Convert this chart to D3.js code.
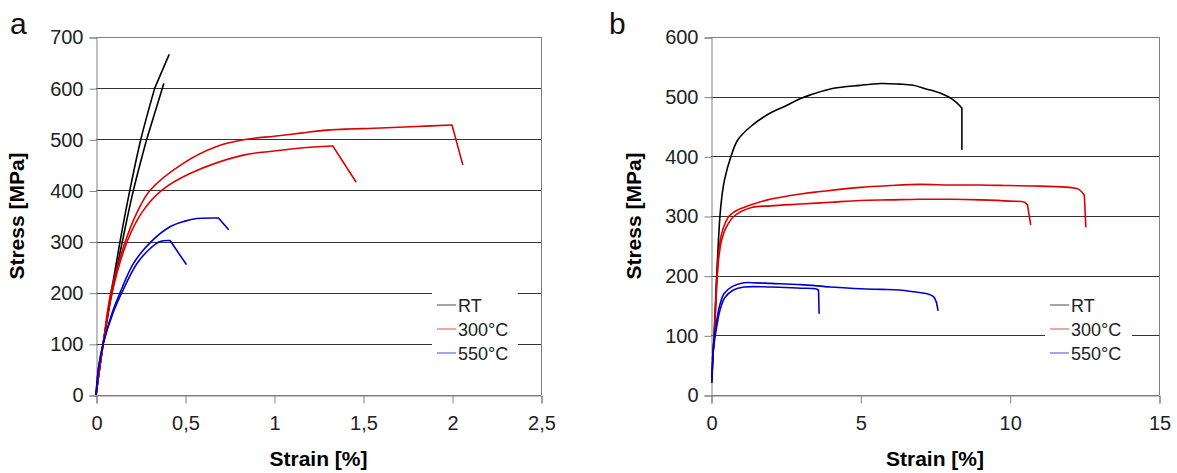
<!DOCTYPE html>
<html><head><meta charset="utf-8">
<script src="https://cdn.jsdelivr.net/npm/d3@7"></script>
<style>body{margin:0;background:#fff}svg{display:block}</style>
</head><body><svg id="c" width="1177" height="473"></svg>
<script>
// ---- Data (strain [%], stress [MPa]) ----
const seriesNames = ["RT", "300°C", "550°C"];
const seriesColors = ["#000000", "#dd0000", "#0000cc"];

// Panel a
const aTicksX = [0, 0.5, 1, 1.5, 2, 2.5];
const aTickLabelsX = ["0", "0,5", "1", "1,5", "2", "2,5"];
const aTicksY = [0, 100, 200, 300, 400, 500, 600, 700];
const aRT1 = [[0,0],[0.04,100],[0.085,200],[0.135,300],[0.19,400],[0.252,500],[0.33,600],[0.41,665]];
const aRT2 = [[0,0],[0.04,100],[0.09,200],[0.148,300],[0.21,400],[0.285,500],[0.38,608]];
const a300_1 = [[0,0],[0.04,100],[0.083,200],[0.165,300],[0.228,355],[0.303,400],[0.49,453],[0.678,486],[0.847,500],[1.0,506],[1.15,512],[1.3,518],[1.6,522],[1.8,525],[2.0,528],[2.06,451]];
const a300_2 = [[0,0],[0.04,100],[0.09,200],[0.175,300],[0.26,358],[0.369,400],[0.528,433],[0.827,469],[1.0,477],[1.15,483],[1.33,487],[1.46,417]];
const a550_1 = [[0,0],[0.015,55],[0.04,100],[0.09,160],[0.135,200],[0.21,257],[0.31,300],[0.416,329],[0.5,340],[0.566,345],[0.688,346],[0.743,324]];
const a550_2 = [[0,0],[0.015,55],[0.04,100],[0.095,160],[0.145,200],[0.23,257],[0.3,285],[0.36,300],[0.416,302],[0.506,256]];

// Panel b
const bTicksX = [0, 5, 10, 15];
const bTickLabelsX = ["0", "5", "10", "15"];
const bTicksY = [0, 100, 200, 300, 400, 500, 600];
const bRT = [[0.03,20],[0.08,80],[0.12,120],[0.19,200],[0.3,300],[0.37,335],[0.45,360],[0.67,400],[0.89,427],[1.33,450],[2.0,473],[2.44,483],[3.0,497],[3.33,503],[4.1,514],[5.0,519],[5.67,522],[6.3,521],[6.77,519],[7.2,513],[7.67,506],[8.1,495],[8.4,481],[8.4,412]];
const b300_1 = [[0.05,60],[0.11,100],[0.2,200],[0.26,240],[0.33,265],[0.45,285],[0.61,300],[0.89,310],[1.3,318],[1.89,327],[3.0,337],[3.67,341],[5.0,348],[6.0,351],[7.0,353],[8.0,352],[9.0,352],[10.0,351],[11.0,350],[12.0,348],[12.3,345],[12.5,335],[12.55,282]];
const b300_2 = [[0.05,60],[0.11,100],[0.2,190],[0.26,230],[0.35,258],[0.5,280],[0.78,300],[1.33,314],[2.0,317],[3.0,320],[4.0,323],[5.0,326],[6.0,327],[7.0,328],[8.0,328],[9.0,327],[10.0,325],[10.5,323],[10.6,318],[10.7,286]];
const b550_1 = [[0.03,30],[0.08,80],[0.15,110],[0.28,148],[0.44,170],[0.72,182],[1.1,188],[1.5,188],[2.0,187],[3.0,185],[4.0,181],[5.0,178],[5.7,177],[6.3,176],[6.8,173],[7.2,170],[7.45,165],[7.55,155],[7.6,142]];
const b550_2 = [[0.03,25],[0.08,75],[0.16,105],[0.3,142],[0.46,163],[0.75,176],[1.1,181],[2.0,181],[3.0,179],[3.5,178],[3.6,176],[3.62,137]];

const panels = [
  {label:"a", x0:96, x1:541, y0:395, y1:37, xmax:2.5, ymax:700, xt:aTicksX, xl:aTickLabelsX, yt:aTicksY,
   curves:[[aRT1,0],[aRT2,0],[a300_1,1],[a300_2,1],[a550_1,2],[a550_2,2]],
   labelPos:[10,34], yTitleX:24, legend:{x:432,y:287,w:86,h:78}},
  {label:"b", x0:711, x1:1159, y0:395, y1:37, xmax:15, ymax:600, xt:bTicksX, xl:bTickLabelsX, yt:bTicksY,
   curves:[[bRT,0],[b300_1,1],[b300_2,1],[b550_1,2],[b550_2,2]],
   labelPos:[609,34], yTitleX:641, legend:{x:1045,y:287,w:87,h:78}}
];

const svg = d3.select("#c");
const font = "'Liberation Sans', Arial, sans-serif";

panels.forEach(p => {
  const x = d3.scaleLinear().domain([0, p.xmax]).range([p.x0, p.x1]);
  const y = d3.scaleLinear().domain([0, p.ymax]).range([p.y0, p.y1]);
  const g = svg.append("g");

  // gridlines
  g.selectAll("line.grid").data(p.yt).enter().append("line")
    .attr("x1", p.x0).attr("x2", p.x1)
    .attr("y1", d => Math.round(y(d)) + 0.5).attr("y2", d => Math.round(y(d)) + 0.5)
    .attr("stroke", d => (d === 0 || d === p.ymax) ? "#808080" : "#333").attr("stroke-width", 1);
  // right frame
  g.append("line").attr("x1", p.x1 + 0.5).attr("x2", p.x1 + 0.5).attr("y1", y(p.ymax)).attr("y2", y(0))
    .attr("stroke", "#808080");

  // y axis
  const yAxis = d3.axisLeft(y).tickValues(p.yt).tickSize(7).tickPadding(6).tickFormat(d3.format("d"));
  const ya = g.append("g").attr("transform", `translate(${p.x0 + 0.5},0.5)`).call(yAxis);
  ya.select(".domain").attr("stroke", "#808080");
  ya.selectAll(".tick line").attr("stroke", "#808080");
  ya.selectAll("text").attr("font-family", font).attr("font-size", 20).attr("fill", "#222");

  // x axis
  const xAxis = d3.axisBottom(x).tickValues(p.xt).tickSize(8).tickPadding(12).tickFormat((d, i) => p.xl[i]);
  const xa = g.append("g").attr("transform", `translate(0.5,${p.y0 + 0.5})`).call(xAxis);
  xa.select(".domain").attr("stroke", "#808080");
  xa.selectAll(".tick line").attr("stroke", "#808080");
  xa.selectAll("text").attr("font-family", font).attr("font-size", 20).attr("fill", "#222");

  // legend box
  const L = p.legend;
  g.append("rect").attr("x", L.x).attr("y", L.y).attr("width", L.w).attr("height", L.h).attr("fill", "#fff");

  // curves: smooth body, straight final fracture drop
  const smooth = d3.line().x(d => x(d[0])).y(d => y(d[1])).curve(d3.curveCatmullRom.alpha(0.5));
  const straight = d3.line().x(d => x(d[0])).y(d => y(d[1]));
  p.curves.forEach(c => {
    const pts = c[0];
    g.append("path").attr("d", smooth(pts.slice(0, -1))).attr("fill", "none")
      .attr("stroke", seriesColors[c[1]]).attr("stroke-width", 1.6).attr("stroke-linejoin", "round");
    g.append("path").attr("d", straight(pts.slice(-2))).attr("fill", "none")
      .attr("stroke", seriesColors[c[1]]).attr("stroke-width", 1.6).attr("stroke-linecap", "round");
  });

  // legend entries
  seriesNames.forEach((n, i) => {
    const cy = L.y + 18 + i * 24;
    g.append("line").attr("x1", L.x + 5).attr("x2", L.x + 24).attr("y1", cy).attr("y2", cy)
      .attr("stroke", seriesColors[i]).attr("stroke-width", 1).attr("opacity", 0.7);
    g.append("text").attr("x", L.x + 26).attr("y", cy + 6.5).text(n)
      .attr("font-family", font).attr("font-size", 18).attr("fill", "#222");
  });

  // axis titles
  g.append("text").attr("x", (p.x0 + p.x1) / 2).attr("y", 466).attr("text-anchor", "middle")
    .attr("font-family", font).attr("font-weight", "bold").attr("font-size", 21).text("Strain [%]");
  g.append("text").attr("transform", `translate(${p.yTitleX},${(p.y0 + p.y1) / 2}) rotate(-90)`)
    .attr("text-anchor", "middle").attr("font-family", font).attr("font-weight", "bold").attr("font-size", 21)
    .text("Stress [MPa]");

  // panel label
  g.append("text").attr("x", p.labelPos[0]).attr("y", p.labelPos[1]).text(p.label)
    .attr("font-family", font).attr("font-size", 30).attr("fill", "#111");
});
</script></body></html>
